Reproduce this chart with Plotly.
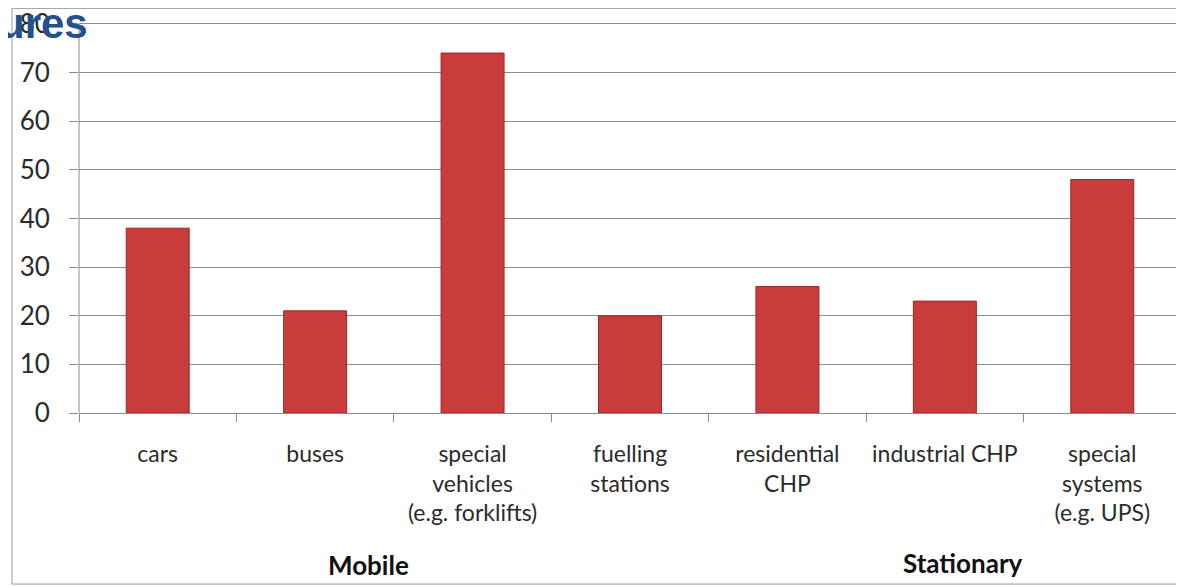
import plotly.graph_objects as go

categories = ["cars", "buses", "special<br>vehicles<br>(e.g. forklifts)", "fuelling<br>stations",
              "residential<br>CHP", "industrial CHP", "special<br>systems<br>(e.g. UPS)"]
values = [38, 21, 74, 20, 26, 23, 48]
y_ticks = [0, 10, 20, 30, 40, 50, 60, 70, 80]
group_labels = ["Mobile", "Stationary"]
title_fragment = "ures"

# the page body has an 8px margin: work in screen pixels and convert
OFF = 8
W, H = 1184 - OFF, 586 - OFF
Y_TOP = 81                                   # a little headroom so the 80 gridline is drawn
SL, SR, SB = 79, 1181, 413                   # plot area in screen pixels
PX_PER_UNIT = (413 - 24) / 80
ST = SB - PX_PER_UNIT * Y_TOP
L, T = SL - OFF, ST - OFF
R = W - (SR - OFF)
B = H - (SB - OFF)
pw, ph = SR - SL, SB - ST

def px_x(x):
    return (x - SL) / pw

def px_y(y):
    return (SB - y) / ph

fig = go.Figure()
fig.add_trace(go.Bar(
    x=categories, y=values,
    marker=dict(color="#c93c3c", line=dict(color="#9a2626", width=1)),
    width=0.4,
    hoverinfo="skip",
))

fig.update_layout(
    width=W, height=H,
    margin=dict(l=L, r=R, t=T, b=B, autoexpand=False),
    plot_bgcolor="white", paper_bgcolor="white",
    showlegend=False,
    font=dict(family="Lato, Carlito, sans-serif", color="#2b2b2b"),
    xaxis=dict(
        type="category",
        range=[-0.5, len(categories) - 0.5],
        tickson="boundaries", ticks="outside", ticklen=8, tickcolor="#8c8c8c",
        showline=True, linecolor="#8c8c8c", linewidth=1,
        showgrid=False,
        tickfont=dict(size=23, color="#2b2b2b"),
        tickangle=0,
        ticklabelstandoff=20,
        automargin=False,
    ),
    yaxis=dict(
        range=[0, Y_TOP], tickvals=y_ticks,
        ticks="outside", ticklen=9, tickcolor="#8c8c8c",
        showline=False,
        showgrid=True, gridcolor="#8c8c8c", gridwidth=1,
        zeroline=False,
        tickfont=dict(size=26, color="#2b2b2b"),
        ticklabelstandoff=14,
        ticklabeloverflow="allow",
        automargin=False,
    ),
    bargap=0.6,
)

# vertical value-axis line from 0 to 80
fig.add_shape(type="line", xref="paper", yref="y", x0=0, x1=0, y0=0, y1=y_ticks[-1],
              line=dict(color="#8c8c8c", width=1))

# outer frame of the slide image
fig.add_shape(type="rect", xref="paper", yref="paper",
              x0=px_x(12), x1=px_x(1181), y0=px_y(584), y1=px_y(8.5),
              line=dict(color="#9a9a9a", width=1), fillcolor="rgba(0,0,0,0)", layer="below")

fig.add_annotation(text=f"<b>{group_labels[0]}</b>", xref="paper", yref="paper",
                   x=px_x(368), y=px_y(565), showarrow=False,
                   font=dict(size=26, color="#111111"), xanchor="center", yanchor="middle")
fig.add_annotation(text=f"<b>{group_labels[1]}</b>", xref="paper", yref="paper",
                   x=px_x(963), y=px_y(563), showarrow=False,
                   font=dict(size=26, color="#111111"), xanchor="center", yanchor="middle")
fig.add_annotation(text=f"<b>{title_fragment}</b>", xref="paper", yref="paper",
                   x=px_x(90), y=px_y(24), showarrow=False,
                   font=dict(size=42, color="#24508c", family="Liberation Sans, Arial, sans-serif"),
                   xanchor="right", yanchor="middle")

fig.write_html("out.html")
